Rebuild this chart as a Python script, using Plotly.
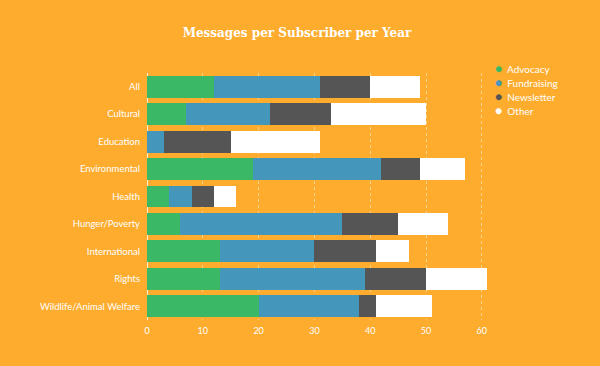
import plotly.graph_objects as go

categories = ["All", "Cultural", "Education", "Environmental", "Health",
              "Hunger/Poverty", "International", "Rights", "Wildlife/Animal Welfare"]
advocacy = [12, 7, 0, 19, 4, 6, 13, 13, 20]
fundraising = [19, 15, 3, 23, 4, 29, 17, 26, 18]
newsletter = [9, 11, 12, 7, 4, 10, 11, 11, 3]
other = [9, 17, 16, 8, 4, 9, 6, 11, 10]

series = [("Advocacy", advocacy, "#3bb865"),
          ("Fundraising", fundraising, "#4596bb"),
          ("Newsletter", newsletter, "#555555"),
          ("Other", other, "#ffffff")]

bg = "#feac2e"
fig = go.Figure()
for name, vals, col in series:
    fig.add_trace(go.Bar(y=categories, x=vals, orientation="h", name=name,
                         marker=dict(color=col, line=dict(width=0)),
                         showlegend=False))

# legend drawn as annotations (compact spacing like the reference)
top, bottom = 72.5, 45.5
plot_h = 366 - top - bottom
for i, (name, vals, col) in enumerate(series):
    fig.add_annotation(xref="paper", yref="paper", x=1.0,
                       y=1 + (top - 67.5 - i * 14.2) / plot_h,
                       xanchor="left", yanchor="middle", showarrow=False,
                       text=f"<span style='color:{col};font-size:12px'>●</span>  {name}",
                       font=dict(size=10, color="white", family="Lato"))

fig.update_layout(
    barmode="stack", bargap=0.2,
    width=600, height=366,
    paper_bgcolor=bg, plot_bgcolor=bg,
    margin=dict(l=147, r=107, t=top, b=bottom),
    showlegend=False,
    title=dict(text="<b>Messages per Subscriber per Year</b>", x=0.495, xanchor="center",
               y=0.91, yanchor="middle",
               font=dict(family="DejaVu Serif", size=12, color="white")),
    font=dict(family="Lato", color="white", size=10),
    xaxis=dict(range=[0, 62], dtick=10, showgrid=True,
               gridcolor="rgba(255,255,255,0.45)", griddash="dot", gridwidth=1,
               zeroline=True, zerolinecolor="rgba(255,255,255,0.8)", zerolinewidth=1,
               tickfont=dict(size=9, color="white"), ticks="", ticklabelstandoff=4,
               fixedrange=True),
    yaxis=dict(autorange="reversed", showgrid=False, ticks="", ticklabelstandoff=6,
               tickfont=dict(size=9.5, color="white")),
)
fig.write_html("out.html", config={"displayModeBar": False},
               post_script="document.body.style.margin='0';")
